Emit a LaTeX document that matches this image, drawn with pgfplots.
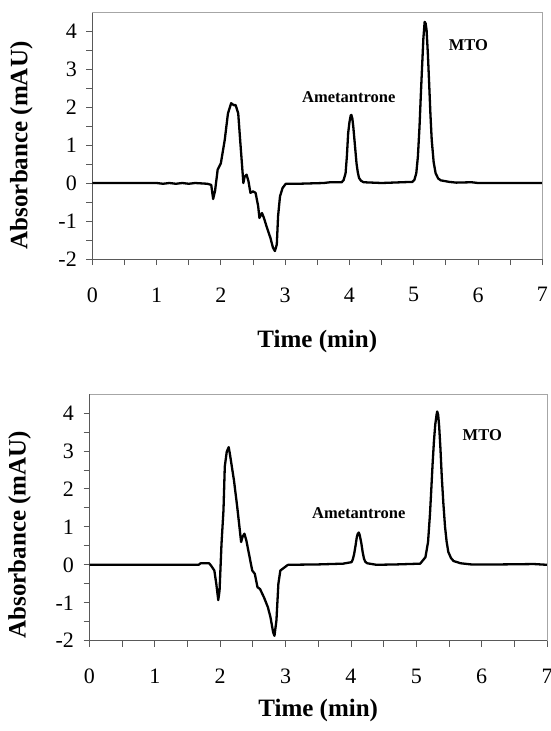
\documentclass[border=0pt]{standalone}
\usepackage{fontspec}
\setmainfont{Liberation Serif}
\usepackage{pgfplots}
\pgfplotsset{compat=1.18}

\pgfplotsset{chrom/.style={
    scale only axis,
    xmin=0, xmax=7, ymin=-2, ymax=4.5,
    axis lines*=left,
    axis line style={black!65, line width=0.8pt},
    xtick={0,...,7}, ytick={-2,...,4},
    yticklabels={-2,-1,0,1,2,3,4},
    minor x tick num=1, minor y tick num=1,
    tick align=outside,
    tick style={black!65, line width=0.8pt},
    major tick length=6pt, minor tick length=6pt,
    /pgf/number format/assume math mode=true,
    ticklabel style={font=\fontsize{22}{24}\selectfont},
    xticklabel style={yshift=-19pt},
    yticklabel style={xshift=-6pt},
    xlabel={Time (min)}, ylabel={Absorbance (mAU)},
    clip=false,
  },
  trace/.style={black, line width=2.3pt, line join=round, mark=none},
}
\tikzset{
  pk/.style={font=\bfseries\fontsize{16.5}{18}\selectfont},
  ylab/.style={at={(axis description cs:0,#1)}, rotate=90, anchor=center,
    font=\bfseries\fontsize{25}{28}\selectfont},
  xlab/.style={at={(axis description cs:0.5,0)}, yshift=#1, anchor=center,
    font=\bfseries\fontsize{25}{28}\selectfont},
}

\begin{document}
\begin{tikzpicture}
\useasboundingbox (0pt,0pt) rectangle (551pt,-731pt);

% upper chromatogram
\begin{axis}[chrom, at={(92.3pt,-259pt)}, anchor=south west,
    width=450pt, height=247pt,
    every axis x label/.style={xlab=-82pt},
    every axis y label/.style={xshift=-71pt, ylab=0.46}]
\addplot[trace] coordinates {
(0,0) (1.0,0) (1.1,-0.02) (1.2,0.0) (1.3,-0.02) (1.4,0.0) (1.5,-0.02) (1.6,0.0) (1.79,-0.02)
(1.85,-0.05) (1.88,-0.42) (1.91,-0.2) (1.95,0.35) (2.0,0.52) (2.06,1.13) (2.11,1.83)
(2.16,2.1) (2.2,2.05) (2.23,2.05) (2.27,1.83) (2.3,1.13) (2.35,0.0) (2.37,0.17) (2.4,0.22)
(2.43,0.04) (2.46,-0.26) (2.5,-0.22) (2.54,-0.26) (2.58,-0.61) (2.6,-0.92) (2.64,-0.79)
(2.67,-0.92) (2.71,-1.14) (2.77,-1.44) (2.81,-1.70) (2.84,-1.79) (2.87,-1.62) (2.89,-0.87)
(2.92,-0.35) (2.96,-0.13) (3.01,-0.02) (3.2,-0.02) (3.6,0.0) (3.7,0.02) (3.88,0.02)
(3.91,0.08) (3.94,0.26) (3.96,0.7) (3.98,1.31) (4.0,1.6) (4.02,1.78) (4.03,1.79)
(4.045,1.7) (4.06,1.48) (4.085,1.0) (4.11,0.52) (4.13,0.28) (4.15,0.13) (4.18,0.06) (4.22,0.02)
(4.5,0.0) (4.98,0.03) (5.01,0.08) (5.04,0.26) (5.065,0.7) (5.09,1.48) (5.11,2.3) (5.13,3.06)
(5.15,3.8) (5.17,4.24) (5.185,4.2) (5.2,4.02) (5.22,3.4) (5.24,2.62) (5.26,1.8) (5.28,1.13)
(5.31,0.55) (5.34,0.26) (5.38,0.12) (5.42,0.07) (5.55,0.03) (5.66,0.01) (5.9,0.02)
(6.0,0.0) (7,0)
};
\node[pk] at (axis cs:3.99,2.27) {Ametantrone};
\node[pk] at (axis cs:5.85,3.62) {MTO};
\draw[black!35, line width=0.8pt] (rel axis cs:0,1) -- (rel axis cs:1,1) -- (rel axis cs:1,0);
\end{axis}

% lower chromatogram
\begin{axis}[chrom, at={(89.5pt,-640.7pt)}, anchor=south west,
    width=457.5pt, height=246.7pt,
    every axis x label/.style={xlab=-70pt},
    every axis y label/.style={xshift=-70pt, ylab=0.43}]
\addplot[trace] coordinates {
(0,0) (1.67,0) (1.7,0.04) (1.83,0.04) (1.86,-0.02) (1.91,-0.15) (1.94,-0.5) (1.97,-0.93)
(1.99,-0.68) (2.02,0.56) (2.05,1.44) (2.07,2.59) (2.1,2.98) (2.13,3.1) (2.15,2.9)
(2.21,2.23) (2.26,1.53) (2.32,0.6) (2.34,0.73) (2.37,0.82) (2.4,0.64) (2.45,0.2)
(2.49,-0.15) (2.53,-0.24) (2.57,-0.59) (2.61,-0.64) (2.67,-0.86) (2.73,-1.12) (2.77,-1.39)
(2.81,-1.78) (2.83,-1.87) (2.86,-1.47) (2.89,-0.5) (2.92,-0.15) (2.96,-0.1) (3.02,-0.02)
(3.04,0) (3.5,0.01) (3.88,0.03) (4.01,0.07) (4.03,0.15) (4.05,0.29) (4.07,0.5) (4.09,0.73)
(4.105,0.82) (4.12,0.85) (4.135,0.78) (4.16,0.56) (4.18,0.33) (4.2,0.16) (4.22,0.08)
(4.25,0.04) (4.39,0) (4.7,0.01) (5.06,0.03) (5.14,0.2) (5.18,0.6) (5.21,1.35) (5.23,2.0)
(5.25,2.67) (5.27,3.25) (5.29,3.69) (5.31,3.95) (5.32,4.04) (5.335,3.95) (5.35,3.65)
(5.37,3.05) (5.39,2.32) (5.415,1.6) (5.44,1.0) (5.465,0.6) (5.49,0.34) (5.53,0.18)
(5.57,0.1) (5.68,0.04) (5.84,0.01) (6.3,0.01) (6.8,0.02) (7,0)
};
\node[pk] at (axis cs:4.12,1.37) {Ametantrone};
\node[pk] at (axis cs:6.01,3.42) {MTO};
\draw[black!35, line width=0.8pt] (rel axis cs:0,1) -- (rel axis cs:1,1) -- (rel axis cs:1,0);
\end{axis}
\end{tikzpicture}
\end{document}
